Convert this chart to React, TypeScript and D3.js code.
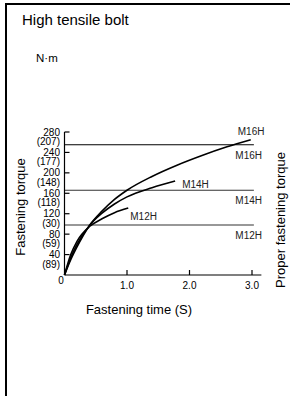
import * as d3 from "d3";

// fastening torque (N·m) over fastening time (s)
const m16h: [number, number][] = [
  [0, 0], [0.1, 30], [0.2, 55], [0.4, 97], [0.6, 125], [0.8, 148], [1.0, 166],
  [1.4, 193], [1.8, 215], [2.2, 234], [2.6, 251], [2.98, 265],
];
const m14h: [number, number][] = [
  [0, 0], [0.1, 34], [0.2, 60], [0.4, 97], [0.6, 121], [0.8, 139], [1.0, 153],
  [1.4, 171], [1.77, 184],
];
const m12h: [number, number][] = [
  [0, 0], [0.1, 40], [0.2, 66], [0.4, 95], [0.6, 110], [0.8, 122], [1.02, 131],
];
const seriesNames = ["M16H", "M14H", "M12H"];
// proper fastening torque lines
const properTorque = [255, 166, 98];

const yTicks = [0, 40, 80, 120, 160, 200, 240, 280];
const yTickAlt = ["", "(89)", "(59)", "(30)", "(118)", "(148)", "(177)", "(207)"];
const xTicks = [1, 2, 3];
const xTickLabels = ["1.0", "2.0", "3.0"];

const font = "Liberation Sans, Arial, sans-serif";

export default function App() {
  const width = 290;
  const height = 396;

  const x = d3.scaleLinear().domain([0, 3]).range([64.5, 252]);
  const y = d3.scaleLinear().domain([0, 280]).range([275, 132]);

  const line = d3
    .line<[number, number]>()
    .x((d) => x(d[0]))
    .y((d) => y(d[1]))
    .curve(d3.curveMonotoneX);

  const curves = [m16h, m14h, m12h];
  // where the name sits next to the end of each curve
  const endOffsets = [
    [-13, -5],
    [7, 7],
    [2, 12],
  ];

  return (
    <svg
      width={width}
      height={height}
      style={{ position: "absolute", left: 0, top: 0, background: "#fff" }}
      fontFamily={font}
    >
      {/* frame */}
      <line x1={5} x2={290} y1={4} y2={4} stroke="#000" strokeWidth={2} />
      <line x1={6} x2={6} y1={3} y2={396} stroke="#000" strokeWidth={2} />

      <text x={22} y={25} fontSize={15}>High tensile bolt</text>
      <text x={36} y={62} fontSize={11.5}>N·m</text>

      {/* proper torque lines */}
      {properTorque.map((v, i) => (
        <g key={i}>
          <line x1={x(0)} x2={x(3.03)} y1={y(v)} y2={y(v)} stroke={i === 0 ? "#000" : "#333"} strokeWidth={1.1} />
          <text x={x(3.16)} y={y(v) + 14} fontSize={10} textAnchor="end" fill="#222">
            {seriesNames[i]}
          </text>
        </g>
      ))}

      {/* axes */}
      <line x1={x(0)} x2={x(0)} y1={y(0)} y2={y(280)} stroke="#000" strokeWidth={1.2} />
      <line x1={x(0)} x2={x(3.15)} y1={y(0)} y2={y(0)} stroke="#000" strokeWidth={1.2} />
      {yTicks.slice(1).map((t, i) => (
        <g key={t}>
          <line x1={x(0)} x2={x(0) + 5} y1={y(t)} y2={y(t)} stroke="#000" strokeWidth={1.2} />
          <text x={60} y={y(t) + 3.5} fontSize={10} textAnchor="end">{t}</text>
          <text x={60} y={y(t) + 13} fontSize={10} textAnchor="end">{yTickAlt[i + 1]}</text>
        </g>
      ))}
      <text x={61} y={y(0) + 9} fontSize={10} textAnchor="middle">0</text>
      {xTicks.map((t, i) => (
        <g key={t}>
          <line x1={x(t)} x2={x(t)} y1={y(0)} y2={y(0) - 5} stroke="#000" strokeWidth={1.2} />
          <text x={x(t)} y={y(0) + 14} fontSize={10} textAnchor="middle">{xTickLabels[i]}</text>
        </g>
      ))}

      {/* curves */}
      {curves.map((c, i) => {
        const last = c[c.length - 1];
        return (
          <g key={i}>
            <path d={line(c) ?? ""} fill="none" stroke="#000" strokeWidth={1.6} />
            <text
              x={x(last[0]) + endOffsets[i][0]}
              y={y(last[1]) + endOffsets[i][1]}
              fontSize={10}
              fill="#222"
            >
              {seriesNames[i]}
            </text>
          </g>
        );
      })}

      {/* axis titles */}
      <text x={139} y={314} fontSize={13} textAnchor="middle">Fastening time (S)</text>
      <text
        transform="translate(25,207) rotate(-90)"
        fontSize={13}
        textAnchor="middle"
      >
        Fastening torque
      </text>
      <text
        transform="translate(285,220) rotate(-90)"
        fontSize={13}
        textAnchor="middle"
      >
        Proper fastening torque
      </text>
    </svg>
  );
}
